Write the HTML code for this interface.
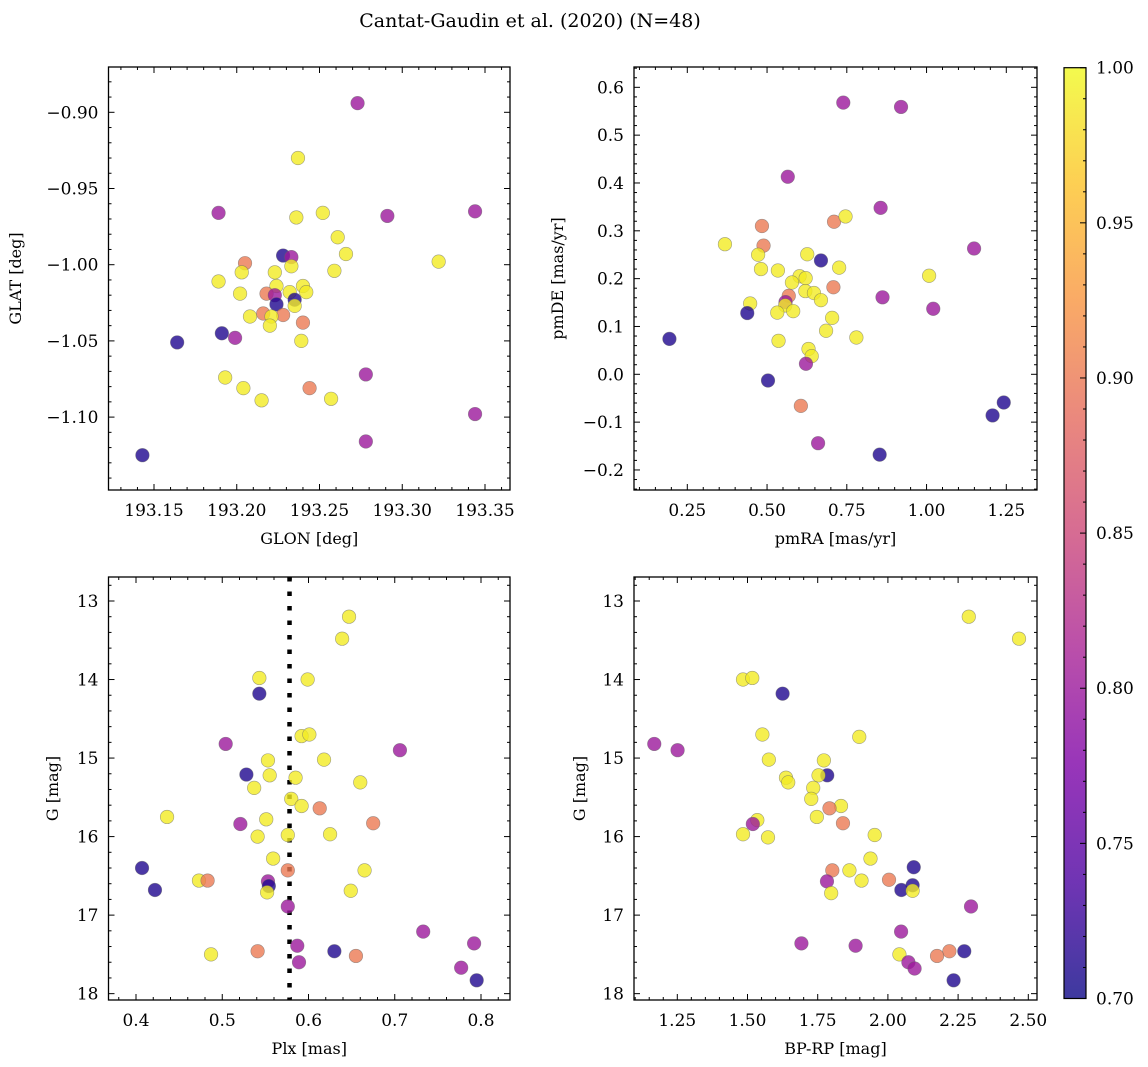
<!DOCTYPE html>
<html><head><meta charset="utf-8">
<style>
body{margin:0;background:#fff;}
svg{display:block;font-family:"DejaVu Serif","Liberation Serif",serif;}
</style></head>
<body>
<svg id="fig" width="1148" height="1067" viewBox="0 0 1148 1067" xmlns="http://www.w3.org/2000/svg">
<defs>
<linearGradient id="plasma" x1="0" y1="1" x2="0" y2="0">
<stop offset="0" stop-color="#0d0887"/><stop offset="0.125" stop-color="#4c02a1"/>
<stop offset="0.25" stop-color="#7e03a8"/><stop offset="0.375" stop-color="#a92395"/>
<stop offset="0.5" stop-color="#cc4778"/><stop offset="0.625" stop-color="#e56b5d"/>
<stop offset="0.75" stop-color="#f89540"/><stop offset="0.875" stop-color="#fdc328"/>
<stop offset="1" stop-color="#f0f921"/></linearGradient>
</defs>
<text x="530" y="27" font-size="19" text-anchor="middle">Cantat-Gaudin et al. (2020) (N=48)</text>
</svg>
<script>
// ---- data (Y=0.99, S=0.90, P=0.80, N=0.71 membership probability) ----
const glon=[193.273,193.237,193.189,193.236,193.252,193.291,193.344,193.261,193.266,193.322,193.228,193.233,193.205,193.233,193.203,193.223,193.259,193.189,193.224,193.240,193.202,193.218,193.223,193.232,193.242,193.235,193.224,193.235,193.216,193.228,193.208,193.221,193.220,193.240,193.191,193.199,193.239,193.164,193.193,193.204,193.244,193.215,193.257,193.278,193.344,193.278,193.143];
const glat=[-0.894,-0.930,-0.966,-0.969,-0.966,-0.968,-0.965,-0.982,-0.993,-0.998,-0.994,-0.995,-0.999,-1.001,-1.005,-1.005,-1.004,-1.011,-1.014,-1.014,-1.019,-1.019,-1.020,-1.018,-1.018,-1.023,-1.026,-1.027,-1.032,-1.033,-1.034,-1.034,-1.040,-1.038,-1.045,-1.048,-1.050,-1.051,-1.074,-1.081,-1.081,-1.089,-1.088,-1.072,-1.098,-1.116,-1.125];
const probA=[0.80,0.99,0.80,0.99,0.99,0.80,0.80,0.99,0.99,0.99,0.71,0.80,0.90,0.99,0.99,0.99,0.99,0.99,0.99,0.99,0.99,0.90,0.80,0.99,0.99,0.71,0.71,0.99,0.90,0.90,0.99,0.99,0.99,0.90,0.71,0.80,0.99,0.71,0.99,0.99,0.90,0.99,0.99,0.80,0.80,0.80,0.71];
const pmra=[0.739,0.920,0.565,0.856,0.710,0.746,0.484,1.149,0.368,0.489,0.472,0.626,0.669,0.481,0.534,0.726,1.008,0.602,0.621,0.578,0.708,0.620,0.647,0.568,0.558,0.669,0.862,0.447,0.557,0.582,0.532,1.021,0.438,0.704,0.685,0.194,0.536,0.780,0.630,0.640,0.622,0.503,0.606,1.242,1.207,0.660,0.853];
const pmde=[0.568,0.559,0.413,0.348,0.319,0.330,0.310,0.263,0.272,0.269,0.250,0.251,0.238,0.220,0.217,0.223,0.206,0.205,0.201,0.192,0.182,0.174,0.170,0.164,0.151,0.155,0.161,0.148,0.144,0.132,0.129,0.137,0.128,0.118,0.091,0.074,0.070,0.077,0.053,0.038,0.022,-0.013,-0.066,-0.059,-0.086,-0.144,-0.168];
const probB=[0.80,0.80,0.80,0.80,0.90,0.99,0.90,0.80,0.99,0.90,0.99,0.99,0.71,0.99,0.99,0.99,0.99,0.99,0.99,0.99,0.90,0.99,0.99,0.90,0.80,0.99,0.80,0.99,0.99,0.99,0.99,0.80,0.71,0.99,0.99,0.71,0.99,0.99,0.99,0.99,0.80,0.71,0.90,0.71,0.71,0.80,0.71];
const plx=[0.647,0.639,0.543,0.599,0.543,0.592,0.601,0.504,0.706,0.553,0.618,0.528,0.555,0.585,0.660,0.537,0.580,0.592,0.613,0.436,0.521,0.551,0.675,0.541,0.576,0.625,0.559,0.407,0.576,0.665,0.473,0.483,0.553,0.554,0.552,0.422,0.649,0.576,0.733,0.792,0.587,0.630,0.541,0.487,0.655,0.589,0.777,0.795];
const gmagC=[13.20,13.48,13.98,14.00,14.18,14.72,14.70,14.82,14.90,15.03,15.02,15.21,15.22,15.25,15.31,15.38,15.52,15.61,15.64,15.75,15.84,15.78,15.83,16.00,15.98,15.97,16.28,16.40,16.43,16.43,16.56,16.56,16.57,16.63,16.71,16.68,16.69,16.89,17.21,17.36,17.39,17.46,17.46,17.50,17.52,17.60,17.67,17.83];
const probC=[0.99,0.99,0.99,0.99,0.71,0.99,0.99,0.80,0.80,0.99,0.99,0.71,0.99,0.99,0.99,0.99,0.99,0.99,0.90,0.99,0.80,0.99,0.90,0.99,0.99,0.99,0.99,0.71,0.90,0.99,0.99,0.90,0.80,0.71,0.99,0.71,0.99,0.80,0.80,0.80,0.80,0.71,0.90,0.99,0.90,0.80,0.80,0.71];
const bprp=[2.288,2.467,1.484,1.517,1.625,1.553,1.898,1.168,1.251,1.576,1.772,1.784,1.753,1.637,1.645,1.734,1.727,1.833,1.792,1.747,1.535,1.519,1.840,1.484,1.573,1.953,1.938,2.092,1.802,1.863,2.004,1.783,1.906,2.088,2.048,2.088,1.798,2.296,2.047,1.692,1.885,2.272,2.219,2.175,2.041,2.073,2.095,2.234];
const gmagD=[13.20,13.48,14.00,13.98,14.18,14.70,14.73,14.82,14.90,15.02,15.03,15.22,15.22,15.25,15.31,15.38,15.52,15.61,15.64,15.75,15.79,15.84,15.83,15.97,16.01,15.98,16.28,16.39,16.43,16.43,16.55,16.57,16.56,16.62,16.68,16.69,16.72,16.89,17.21,17.36,17.39,17.46,17.46,17.52,17.50,17.60,17.68,17.83];
const probD=[0.99,0.99,0.99,0.99,0.71,0.99,0.99,0.80,0.80,0.99,0.99,0.71,0.99,0.99,0.99,0.99,0.99,0.99,0.90,0.99,0.99,0.80,0.90,0.99,0.99,0.99,0.99,0.71,0.90,0.99,0.90,0.80,0.99,0.71,0.71,0.99,0.99,0.80,0.80,0.80,0.80,0.71,0.90,0.90,0.99,0.80,0.80,0.71];
const plxMean=0.578;
const cbTicks=[0.70,0.75,0.80,0.85,0.90,0.95,1.00];

const NS="http://www.w3.org/2000/svg";
const svg=document.getElementById('fig');
function mk(tag,attrs,parent){const e=document.createElementNS(NS,tag);for(const k in attrs)e.setAttribute(k,attrs[k]);(parent||svg).appendChild(e);return e;}
const stops=[[0,[13,8,135]],[0.125,[76,2,161]],[0.25,[126,3,168]],[0.375,[169,35,149]],[0.5,[204,71,120]],[0.625,[229,107,93]],[0.75,[248,149,64]],[0.875,[253,195,40]],[1,[240,249,33]]];
function plasma(v){let t=Math.max(0,Math.min(1,(v-0.7)/0.3));for(let i=1;i<stops.length;i++){if(t<=stops[i][0]){const a=stops[i-1],b=stops[i];const f=(t-a[0])/(b[0]-a[0]);const c=a[1].map((x,j)=>Math.round(x+(b[1][j]-x)*f));return`rgb(${c})`;}}return'rgb(240,249,33)';}
function fmt(v,d){const s=Math.abs(v).toFixed(d);return(v<0?'\u2212':'')+s;}

function panel(o){
  const g=mk('g',{});
  
  
  const X=v=>o.x0+(v-o.xv0)*o.xs, Y=v=>o.y0-(v-o.yv0)*o.ys;
  const L=o.box[0],R=o.box[1],T=o.box[2],B=o.box[3];
  const tg=mk('g',{stroke:'#000','stroke-width':1},g);
  for(let v=o.xmin;v<=o.xmax+1e-9;v+=o.xminor){const px=X(v);if(px<L||px>R)continue;const maj=Math.abs(v/o.xmajor-Math.round(v/o.xmajor))<1e-6;const len=maj?6:3;
    mk('line',{x1:px,x2:px,y1:B,y2:B-len},tg);mk('line',{x1:px,x2:px,y1:T,y2:T+len},tg);}
  for(let v=o.ymin;v<=o.ymax+1e-9;v+=o.yminor){const py=Y(v);if(py<T||py>B)continue;const maj=Math.abs(v/o.ymajor-Math.round(v/o.ymajor))<1e-6;const len=maj?6:3;
    mk('line',{x1:L,x2:L+len,y1:py,y2:py},tg);mk('line',{x1:R,x2:R-len,y1:py,y2:py},tg);}
  o.xticks.forEach(v=>{const t=mk('text',{x:X(v),y:B+26,'font-size':17,'text-anchor':'middle'},g);t.textContent=fmt(v,o.xd);
    });
  o.yticks.forEach(v=>{const t=mk('text',{x:L-10,y:Y(v)+6,'font-size':17,'text-anchor':'end'},g);t.textContent=fmt(v,o.yd);
    });
  if(o.vline!==undefined){const l=mk('line',{x1:X(o.vline),x2:X(o.vline),y1:T,y2:B,stroke:'#000','stroke-width':4.5,'stroke-dasharray':'4.5 10'},g);
    }
  const pg=mk('g',{},g);
  o.xs_data.forEach((xv,i)=>{const c=mk('circle',{cx:X(xv),cy:Y(o.ys_data[i]),r:6.8,fill:plasma(o.p[i]),'fill-opacity':0.8,stroke:'#666','stroke-opacity':0.6,'stroke-width':0.6},pg);
    });
  const fr=mk('rect',{x:L,y:T,width:R-L,height:B-T,fill:'none',stroke:'#000','stroke-width':1.3},g);
  
  const xl=mk('text',{x:(L+R)/2,y:B+54,'font-size':16,'text-anchor':'middle'},g);xl.textContent=o.xlabel;
  
  const cy=(T+B)/2;const yl=mk('text',{x:o.ylx,y:cy,'font-size':16,'text-anchor':'middle',transform:`rotate(-90 ${o.ylx} ${cy})`},g);yl.textContent=o.ylabel;
  
}
panel({name:'panel-glon-glat',box:[108.5,510,67,490],x0:154,xv0:193.15,xs:1655,y0:112.3,yv0:-0.90,ys:1524,
  xmin:193.12,xmax:193.37,xminor:0.01,xmajor:0.05,ymin:-1.15,ymax:-0.86,yminor:0.01,ymajor:0.05,
  xticks:[193.15,193.20,193.25,193.30,193.35],yticks:[-0.90,-0.95,-1.00,-1.05,-1.10],xd:2,yd:2,
  xs_data:glon,ys_data:glat,p:probA,xlabel:'GLON [deg]',ylabel:'GLAT [deg]',ylx:21});
panel({name:'panel-proper-motion',box:[634,1037,67,490],x0:687.3,xv0:0.25,xs:319,y0:374.3,yv0:0,ys:478.3,
  xmin:0.05,xmax:1.4,xminor:0.05,xmajor:0.25,ymin:-0.3,ymax:0.7,yminor:0.02,ymajor:0.1,
  xticks:[0.25,0.5,0.75,1.0,1.25],yticks:[0.6,0.5,0.4,0.3,0.2,0.1,0.0,-0.1,-0.2],xd:2,yd:1,
  xs_data:pmra,ys_data:pmde,p:probB,xlabel:'pmRA [mas/yr]',ylabel:'pmDE [mas/yr]',ylx:563});
panel({name:'panel-parallax-g',box:[108.5,510,577,1000],x0:136,xv0:0.4,xs:862.5,y0:601,yv0:13,ys:-78.53,
  xmin:0.36,xmax:0.84,xminor:0.02,xmajor:0.1,ymin:12.6,ymax:18.2,yminor:0.2,ymajor:1,
  xticks:[0.4,0.5,0.6,0.7,0.8],yticks:[13,14,15,16,17,18],xd:1,yd:0,vline:plxMean,
  xs_data:plx,ys_data:gmagC,p:probC,xlabel:'Plx [mas]',ylabel:'G [mag]',ylx:58});
panel({name:'panel-color-magnitude',box:[634,1037,577,1000],x0:677.3,xv0:1.25,xs:280.8,y0:601,yv0:13,ys:-78.53,
  xmin:1.05,xmax:2.6,xminor:0.05,xmajor:0.25,ymin:12.6,ymax:18.2,yminor:0.2,ymajor:1,
  xticks:[1.25,1.5,1.75,2.0,2.25,2.5],yticks:[13,14,15,16,17,18],xd:2,yd:0,
  xs_data:bprp,ys_data:gmagD,p:probD,xlabel:'BP-RP [mag]',ylabel:'G [mag]',ylx:585});
const cb=mk('g',{});


const CT=67.7,CB=998.5,CL=1064,CR=1086;
const CY=v=>CB-(v-0.7)/0.3*(CB-CT);
mk('rect',{x:CL,y:CT,width:CR-CL,height:CB-CT,fill:'url(#plasma)','fill-opacity':0.8},cb);
for(let v=0.70;v<=1.0001;v+=0.01){const py=CY(v);const maj=Math.abs(v*20-Math.round(v*20))<1e-6;mk('line',{x1:CR,x2:CR-(maj?6:3),y1:py,y2:py,stroke:'#000','stroke-width':1},cb);}
cbTicks.forEach(v=>{const t=mk('text',{x:CR+10,y:CY(v)+6,'font-size':17},cb);t.textContent=v.toFixed(2);
  });
mk('rect',{x:CL,y:CT,width:CR-CL,height:CB-CT,fill:'none',stroke:'#000','stroke-width':1.2},cb);
</script>
</body></html>
